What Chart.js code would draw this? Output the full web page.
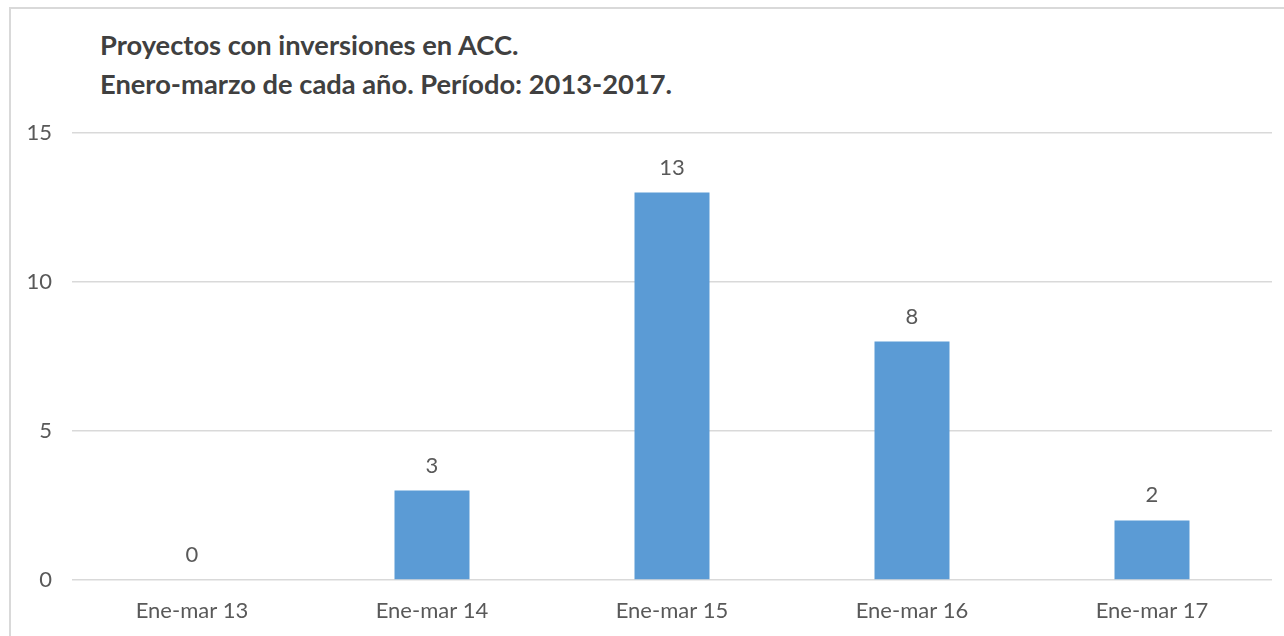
<!DOCTYPE html>
<html>
<head>
<meta charset="utf-8">
<script src="https://cdn.jsdelivr.net/npm/chart.js@4/dist/chart.umd.min.js"></script>
<style>
  html, body { margin: 0; padding: 0; background: #fff; }
  #frame {
    position: absolute; left: 9px; top: 7px; width: 1300px; height: 700px;
    border-left: 2px solid #d9d9d9; border-top: 2px solid #d9d9d9;
    pointer-events: none;
  }
  #title {
    position: absolute; left: 100px; top: 25px;
    font-family: Lato, sans-serif; font-weight: bold; font-size: 27.3px;
    line-height: 39px; color: #404040;
  }
  #wrap { position: absolute; left: 0; top: 0; width: 1284px; height: 636px; }
</style>
</head>
<body>
<div id="frame"></div>
<div id="title">Proyectos con inversiones en ACC.<br>Enero-marzo de cada año. Período: 2013-2017.</div>
<div id="wrap"><canvas id="chart"></canvas></div>
<script>
// Data
const categories = ['Ene-mar 13', 'Ene-mar 14', 'Ene-mar 15', 'Ene-mar 16', 'Ene-mar 17'];
const projectCounts = [0, 3, 13, 8, 2];
const yTicks = [0, 5, 10, 15];

const textColor = '#595959';
const fontFamily = 'Lato, sans-serif';

// Draw the value above each bar
const valueLabels = {
    id: 'valueLabels',
    afterDatasetsDraw(chart) {
        const ctx = chart.ctx;
        const meta = chart.getDatasetMeta(0);
        ctx.save();
        ctx.font = '22px ' + fontFamily;
        ctx.fillStyle = textColor;
        ctx.textAlign = 'center';
        ctx.textBaseline = 'middle';
        meta.data.forEach((bar, i) => {
            ctx.fillText(String(projectCounts[i]), bar.x, bar.y - 25);
        });
        ctx.restore();
    }
};

new Chart(document.getElementById('chart'), {
    type: 'bar',
    data: {
        labels: categories,
        datasets: [{
            label: 'Proyectos',
            data: projectCounts,
            backgroundColor: '#5b9bd5',
            borderWidth: 0,
            categoryPercentage: 1,
            barPercentage: 0.3125
        }]
    },
    options: {
        responsive: true,
        maintainAspectRatio: false,
        animation: false,
        layout: { padding: { top: 133, right: 12, bottom: 12, left: 0 } },
        plugins: {
            legend: { display: false },
            tooltip: { enabled: false }
        },
        scales: {
            x: {
                afterFit(scale) { scale.height = 44; },
                grid: { display: false, drawTicks: false },
                border: { display: false },
                ticks: { color: textColor, font: { family: fontFamily, size: 22 }, padding: 18, maxRotation: 0 }
            },
            y: {
                min: 0,
                max: 15,
                afterBuildTicks(scale) {
                    scale.ticks = yTicks.map(v => ({ value: v }));
                },
                afterFit(scale) { scale.width = 72; },
                grid: { color: '#d9d9d9', lineWidth: 1.5, drawTicks: false },
                border: { display: false },
                ticks: { color: textColor, font: { family: fontFamily, size: 22 }, padding: 20 }
            }
        }
    },
    plugins: [valueLabels]
});
</script>
</body>
</html>
